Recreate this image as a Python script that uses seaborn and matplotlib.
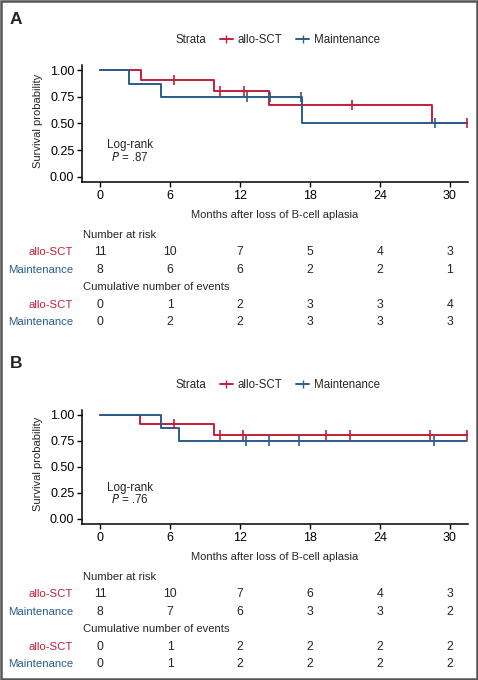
import matplotlib
matplotlib.use('Agg')
import matplotlib.pyplot as plt
import matplotlib.transforms as mtransforms
from matplotlib import font_manager
from matplotlib.lines import Line2D
from matplotlib.patches import Rectangle
import seaborn as sns
import pandas as pd

# ---- data ----
RED = '#C41E3A'
BLUE = '#2A5C8C'
groups = ['allo-SCT', 'Maintenance']
risk_times = [0, 6, 12, 18, 24, 30]

# panel A: step times / survival levels
a_sct_t = [0, 3.5, 9.8, 14.5, 28.5, 31.5]
a_sct_s = [1.0, 0.909, 0.808, 0.673, 0.505, 0.505]
a_sct_cens = [6.35, 10.3, 12.3, 21.6, 31.5]
a_sct_cens_s = [0.909, 0.808, 0.808, 0.673, 0.505]
a_mnt_t = [0, 2.5, 5.25, 17.3, 31.5]
a_mnt_s = [1.0, 0.875, 0.75, 0.5, 0.5]
a_mnt_cens = [12.6, 14.6, 17.2, 28.7]
a_mnt_cens_s = [0.75, 0.75, 0.75, 0.5]
a_risk = {'allo-SCT': [11, 10, 7, 5, 4, 3], 'Maintenance': [8, 6, 6, 2, 2, 1]}
a_events = {'allo-SCT': [0, 1, 2, 3, 3, 4], 'Maintenance': [0, 2, 2, 3, 3, 3]}
a_p = '.87'

# panel B
b_sct_t = [0, 3.45, 9.8, 31.5]
b_sct_s = [1.0, 0.909, 0.808, 0.808]
b_sct_cens = [6.3, 10.25, 12.25, 19.4, 21.4, 28.3, 31.45]
b_sct_cens_s = [0.909, 0.808, 0.808, 0.808, 0.808, 0.808, 0.808]
b_mnt_t = [0, 5.2, 6.8, 31.5]
b_mnt_s = [1.0, 0.875, 0.75, 0.75]
b_mnt_cens = [12.55, 14.5, 17.1, 28.6]
b_mnt_cens_s = [0.75, 0.75, 0.75, 0.75]
b_risk = {'allo-SCT': [11, 10, 7, 6, 4, 3], 'Maintenance': [8, 7, 6, 3, 3, 2]}
b_events = {'allo-SCT': [0, 1, 2, 2, 2, 2], 'Maintenance': [0, 1, 2, 2, 2, 2]}
b_p = '.76'

sns.set_theme(style='ticks')
plt.rcParams['font.family'] = ['Liberation Sans', 'DejaVu Sans']

# axis titles use Liberation Sans Narrow if it is installed
has_narrow = any('LiberationSansNarrow-Regular' in f.fname for f in font_manager.fontManager.ttflist)
if has_narrow:
    TITLE_KW = dict(family='Liberation Sans Narrow', fontsize=8.6)
else:
    TITLE_KW = dict(family='Liberation Sans', fontsize=8.0)

W, H = 478, 680
fig = plt.figure(figsize=(W / 100, H / 100), dpi=100)
fig.patches.append(Rectangle((0.002, 0.002), 0.996, 0.996, transform=fig.transFigure,
                             fill=False, edgecolor='#555555', linewidth=1.8))


def fy(px):
    return 1 - px / H


def panel(letter, top_px, ax_bottom_px, ax_height_px, curves, risk, events, pval,
          legend_px, xlabel_px, table_px):
    ax = fig.add_axes([82 / W, fy(ax_bottom_px), 386 / W, ax_height_px / H])
    for (t, s, ct, cs, col) in curves:
        df = pd.DataFrame({'t': t, 's': s})
        sns.lineplot(data=df, x='t', y='s', ax=ax, color=col, linewidth=1.4,
                     drawstyle='steps-post', estimator=None, sort=False)
        cdf = pd.DataFrame({'t': ct, 's': cs})
        sns.scatterplot(data=cdf, x='t', y='s', ax=ax, color=col, marker='|',
                        s=50, linewidth=1.2, zorder=4)
    ax.set_xlim(-1.55, 31.55)
    ax.set_ylim(-0.05, 1.05)
    ax.set_xticks(risk_times)
    ax.set_yticks([0, 0.25, 0.5, 0.75, 1.0])
    ax.set_yticklabels(['0.00', '0.25', '0.50', '0.75', '1.00'])
    ax.tick_params(labelsize=9.0, length=3.5, width=1, colors='black', pad=2)
    for sp in ['left', 'bottom']:
        ax.spines[sp].set_linewidth(1.1)
        ax.spines[sp].set_color('black')
    sns.despine(ax=ax)
    ax.set_xlabel('')
    ax.set_ylabel('')
    fig.text(38 / W, fy(ax_bottom_px - ax_height_px / 2 - 3), 'Survival probability',
             rotation=90, ha='center', va='center', **TITLE_KW)
    ax.text(2.6, 0.30, 'Log-rank', ha='center', va='center', fontsize=8.4)
    ax.text(2.6, 0.185, r'$\mathit{P}$' + ' = ' + pval, ha='center', va='center', fontsize=8.4)

    fig.text(10 / W, fy(top_px), letter, fontsize=12.5, fontweight='bold', ha='left', va='center')
    fig.text(175 / W, fy(legend_px), 'Strata', fontsize=8.3, ha='left', va='center')
    handles = [Line2D([], [], color=RED, marker='|', markersize=6, linewidth=1.4),
               Line2D([], [], color=BLUE, marker='|', markersize=6, linewidth=1.4)]
    fig.legend(handles, groups, loc='center left', bbox_to_anchor=(220 / W, fy(legend_px)),
               ncol=2, frameon=False, fontsize=8.3, handlelength=1.1, handletextpad=0.45,
               columnspacing=1.2, borderaxespad=0, borderpad=0)

    fig.text(275 / W, fy(xlabel_px), 'Months after loss of B-cell aplasia',
             ha='center', va='center', **TITLE_KW)

    tr = mtransforms.blended_transform_factory(ax.transData, fig.transFigure)
    rows = [('Number at risk', None), ('allo-SCT', risk['allo-SCT']),
            ('Maintenance', risk['Maintenance']),
            ('Cumulative number of events', None), ('allo-SCT', events['allo-SCT']),
            ('Maintenance', events['Maintenance'])]
    y = table_px
    for name, vals in rows:
        if vals is None:
            fig.text(83 / W, fy(y), name, fontsize=8.1, ha='left', va='center')
        else:
            col = RED if name == 'allo-SCT' else BLUE
            fig.text(73 / W, fy(y), name, fontsize=8.2, ha='right', va='center', color=col)
            for xt, v in zip(risk_times, vals):
                ax.text(xt, fy(y), str(v), transform=tr, fontsize=8.8, ha='center', va='center')
        y += 17.4
    return ax


panel('A', 19, 182, 117,
      [(a_sct_t, a_sct_s, a_sct_cens, a_sct_cens_s, RED),
       (a_mnt_t, a_mnt_s, a_mnt_cens, a_mnt_cens_s, BLUE)],
      a_risk, a_events, a_p, 40, 215, 235)
panel('B', 364, 524, 114.4,
      [(b_sct_t, b_sct_s, b_sct_cens, b_sct_cens_s, RED),
       (b_mnt_t, b_mnt_s, b_mnt_cens, b_mnt_cens_s, BLUE)],
      b_risk, b_events, b_p, 385, 557, 577)

fig.savefig('out.png', dpi=100)
